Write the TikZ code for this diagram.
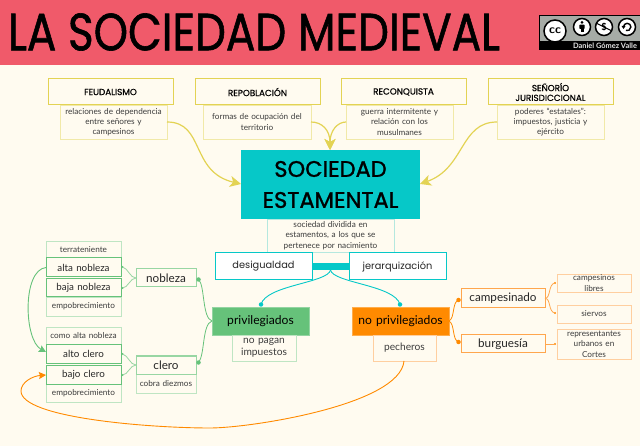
\documentclass[tikz,border=0pt]{standalone}
\usepackage{fontspec}
\usepackage{graphicx}
\setmainfont{Lato}
\newfontfamily\headfont[FakeBold=0.6]{Poppins}
\newfontfamily\titlefont[FakeBold=1.2]{Poppins}
\newfontfamily\cleanhead{Poppins}
\usetikzlibrary{arrows.meta}
\definecolor{paper}{HTML}{FFFBF0}
\definecolor{banner}{HTML}{F05A6A}
\definecolor{mustard}{HTML}{E3D354}
\definecolor{palemust}{HTML}{F1E9A8}
\definecolor{teal}{HTML}{06C8C8}
\definecolor{paleteal}{HTML}{B5E8DF}
\definecolor{leaf}{HTML}{66C27A}
\definecolor{midleaf}{HTML}{98D6A3}
\definecolor{paleleaf}{HTML}{BFE5C3}
\definecolor{amber}{HTML}{FF8A00}
\definecolor{midamber}{HTML}{FFA64D}
\definecolor{paleamber}{HTML}{FFCFA0}
\definecolor{ink}{HTML}{3C3C3C}
\definecolor{badge}{HTML}{A6ABA6}
\tikzset{
  every node/.style={inner sep=0pt,outer sep=0pt,align=center},
  heading/.style={draw=mustard,line width=1pt,fill=paper,font=\headfont\fontsize{8.8}{9.8}\selectfont,text=black},
  note/.style={draw=#1,line width=.8pt,fill=paper,font=\fontsize{8.2}{10.3}\selectfont,text=ink},
  note/.default=palemust,
  tealbox/.style={draw=teal,line width=1pt,fill=white,font=\cleanhead\fontsize{9.8}{12}\selectfont,text=black!85},
  caste/.style={draw=#1,line width=1pt,fill=paper,font=\fontsize{11.7}{13}\selectfont,text=black!85},
  estate/.style={fill=#1,draw=#1!70!white,line width=.6pt,font=\fontsize{12.1}{14}\selectfont,text=black},
  yarrow/.style={draw=mustard,line width=1.2pt,-{Stealth[length=11pt,width=11pt,inset=3pt]}},
  tealline/.style={draw=teal,line width=.9pt},
  dotend/.style={fill=#1,circle,minimum size=4.5pt},
  greenline/.style={draw=leaf,line width=.8pt},
  palegreen/.style={draw=midleaf,line width=.8pt},
  amberline/.style={draw=amber,line width=.8pt},
  paleamberline/.style={draw=midamber,line width=.8pt},
  tinydot/.style={fill=#1,circle,minimum size=2.4pt},
  ccring/.style={draw=black,line width=1.5pt,fill=white,circle},
  smallcaste/.style={font=\fontsize{9.8}{11}\selectfont},
  bignote/.style={font=\fontsize{10.2}{11.8}\selectfont},
}
% \pxbox{name}{x1}{y1}{x2}{y2}{style}{text}: node spanning the given pixel rectangle
\newcommand{\pxbox}[7]{%
  \pgfmathsetmacro{\pbcx}{(#2+#4)/2}\pgfmathsetmacro{\pbcy}{(#3+#5)/2}%
  \pgfmathsetmacro{\pbw}{#4-#2}\pgfmathsetmacro{\pbh}{#5-#3}%
  \node[#6,minimum width=\pbw pt,minimum height=\pbh pt,text width=\pbw pt] (#1) at (\pbcx,\pbcy) {#7};}
\begin{document}
\begin{tikzpicture}[x=1pt,y=-1pt]
\useasboundingbox (0,0) rectangle (640,446);
\fill[paper] (0,0) rectangle (640,446);
\fill[banner] (0,0) rectangle (640,65);
\node[anchor=west,text=black] (title) at (8,32) {\resizebox{492pt}{37pt}{\titlefont LA SOCIEDAD MEDIEVAL}};

% licence badge
\fill[black] (539,15) rectangle (640,50.5);
\fill[badge] (540,16) rectangle (640,41);
\node[ccring,minimum size=22pt] (cc) at (555,31) {\sffamily\bfseries\fontsize{12}{12}\selectfont cc};
\node[ccring,minimum size=17pt] (by) at (582,27) {};
\fill[black] (582,22.3) circle (1.5pt);
\fill[black,rounded corners=.6pt] (579.4,24.6) rectangle (584.6,28.8);
\fill[black] (580.5,28) rectangle (583.5,32);
\node[ccring,minimum size=17pt] (nc) at (604,27) {\sffamily\bfseries\fontsize{10}{10}\selectfont\$};
\draw[black,line width=1.1pt] (597,23.5) -- (611,30.5);
\node[ccring,minimum size=17pt] (sa) at (627,27) {};
\draw[black,line width=1.4pt] (623.5,27) arc[start angle=180,end angle=-110,radius=3.7pt];
\fill[black] (621.5,26) -- (625.5,26) -- (623.5,29) -- cycle;
\node[font=\bfseries\fontsize{7.4}{8}\selectfont,text=white!90!black] (author) at (605,46) {Daniel Gómez Valle};

% four background factors
\pxbox{feudn}{60}{105}{167}{139}{note}{relaciones de dependencia\\entre señores y\\campesinos}
\pxbox{repon}{203}{105}{311}{139}{note}{formas de ocupación del\\territorio}
\pxbox{recon}{346}{105}{453}{139}{note}{guerra intermitente y\\relación con los\\musulmanes}
\pxbox{senon}{497}{105}{604}{139}{note}{poderes ``estatales'':\\impuestos, justicia y\\ejército}
\pxbox{feud}{48}{79}{173}{105}{heading}{FEUDALISMO}
\pxbox{repo}{195}{79}{320}{105}{heading}{REPOBLACIÓN}
\pxbox{reco}{341}{79}{466}{105}{heading}{RECONQUISTA}
\pxbox{seno}{488}{79}{613}{105}{heading}{SEÑORÍO\\JURISDICCIONAL}

% central concept
\pxbox{soc}{241}{150}{420}{219}{fill=teal,font=\titlefont\fontsize{22.5}{31}\selectfont,text=black}{SOCIEDAD\\ESTAMENTAL}
\pxbox{socn}{267}{219}{394}{252}{note=paleteal}{sociedad dividida en\\estamentos, a los que se\\pertenece por nacimiento}
\pxbox{desig}{215}{253}{312}{280}{tealbox}{desigualdad}
\pxbox{jerar}{349}{253}{446}{280}{tealbox}{jerarquización}
\pxbox{link}{312}{263}{349}{270}{fill=teal}{}

\draw[yarrow] (feudn.east) .. controls (205,122) and (190,172) .. (soc.west |- 0,184);
\draw[yarrow] (repon.east) .. controls (322,122) and (330,130) .. (330,150);
\draw[yarrow] (recon.west) .. controls (338,122) and (330,130) .. (330,150);
\draw[yarrow] (senon.west) .. controls (460,122) and (465,168) .. (soc.east |- 0,184);

% the two estates
\pxbox{priv}{212}{307}{309}{335}{estate=leaf}{privilegiados}
\pxbox{privn}{232}{335}{296}{361}{note=paleleaf,bignote}{no pagan\\impuestos}
\pxbox{nopriv}{352}{307}{449}{335}{estate=amber}{no privilegiados}
\pxbox{noprivn}{373}{335}{436}{361}{note=paleamber,bignote}{pecheros}
\node[dotend=teal] (dl) at (261,304.5) {};
\node[dotend=teal] (dr) at (400,304.5) {};
\draw[tealline] (link.south) .. controls (328,283) and (266,285) .. (dl.center);
\draw[tealline] (link.south) .. controls (333,283) and (395,285) .. (dr.center);

% nobility and clergy
\pxbox{terr}{46}{241}{121}{258}{note=paleleaf}{terrateniente}
\pxbox{empa}{46}{297}{121}{316}{note=paleleaf}{empobrecimiento}
\pxbox{alta}{46}{258}{121}{277}{caste=leaf,smallcaste}{alta nobleza}
\pxbox{baja}{46}{279}{121}{297}{caste=leaf,smallcaste}{baja nobleza}
\pxbox{coal}{46}{327}{121}{344}{note=paleleaf}{como alta nobleza}
\pxbox{empb}{46}{384}{121}{402}{note=paleleaf}{empobrecimiento}
\pxbox{alto}{46}{345}{121}{363}{caste=leaf,smallcaste}{alto clero}
\pxbox{bajo}{46}{365}{121}{384}{caste=leaf,smallcaste}{bajo clero}
\pxbox{nobl}{136}{269}{196}{287}{caste=midleaf}{nobleza}
\pxbox{cobr}{136}{374}{196}{393}{note=paleleaf}{cobra diezmos}
\pxbox{cler}{136}{356}{196}{374}{caste=midleaf}{clero}

\node[tinydot=leaf] (d1) at (122.5,267) {};
\node[tinydot=leaf] (d2) at (122.5,288) {};
\node[tinydot=leaf] (d3) at (122.5,354) {};
\node[tinydot=leaf] (d4) at (122.5,375) {};
\draw[palegreen] (nobl.west) .. controls (130,278) and (128,268) .. (d1.center);
\draw[palegreen] (nobl.west) .. controls (130,278) and (128,288) .. (d2.center);
\draw[palegreen] (cler.west) .. controls (130,365) and (128,355) .. (d3.center);
\draw[palegreen] (cler.west) .. controls (130,365) and (128,375) .. (d4.center);

\node[dotend=leaf] (d5) at (198.5,279.5) {};
\node[dotend=leaf] (d6) at (198.5,362.5) {};
\draw[greenline] (d5.center) .. controls (205,285) and (202,318) .. (priv.west);
\draw[greenline] (d6.center) .. controls (205,355) and (202,324) .. (priv.west);

\draw[draw=leaf,line width=.9pt,-{Stealth[length=7pt,width=7pt,inset=1pt]}] (alta.west) .. controls (22,270) and (24,340) .. (alto.north west |- 0,352);
\draw[draw=amber,line width=.9pt,-{Stealth[length=7pt,width=7pt,inset=1pt]}] (404,361) .. controls (400,405) and (250,428) .. (210,428) .. controls (150,428) and (21,418) .. (21,391) .. controls (21,382) and (33,376) .. (bajo.west |- 0,375);

% peasantry and burghers
\pxbox{camp}{461}{289}{545}{308}{caste=midamber}{campesinado}
\pxbox{burg}{461}{335}{545}{353}{caste=midamber}{burguesía}
\pxbox{libr}{557}{274}{631}{292}{note=paleamber}{campesinos\\libres}
\pxbox{sier}{557}{305}{631}{323}{note=paleamber}{siervos}
\pxbox{repr}{557}{329}{631}{359}{note=paleamber}{representantes\\urbanos en\\Cortes}

\node[dotend=amber] (d7) at (458.5,300) {};
\node[dotend=amber] (d8) at (458.5,342) {};
\draw[amberline] (nopriv.east) .. controls (455,318) and (452,302) .. (d7.center);
\draw[amberline] (nopriv.east) .. controls (455,324) and (452,340) .. (d8.center);
\node[tinydot=amber] (d9) at (555,283) {};
\node[tinydot=amber] (d10) at (555,313) {};
\node[tinydot=amber] (d11) at (555,344) {};
\draw[paleamberline] (camp.east) .. controls (551,298) and (548,284) .. (d9.center);
\draw[paleamberline] (camp.east) .. controls (551,298) and (548,312) .. (d10.center);
\draw[paleamberline] (burg.east) -- (d11.center);
\end{tikzpicture}
\end{document}
